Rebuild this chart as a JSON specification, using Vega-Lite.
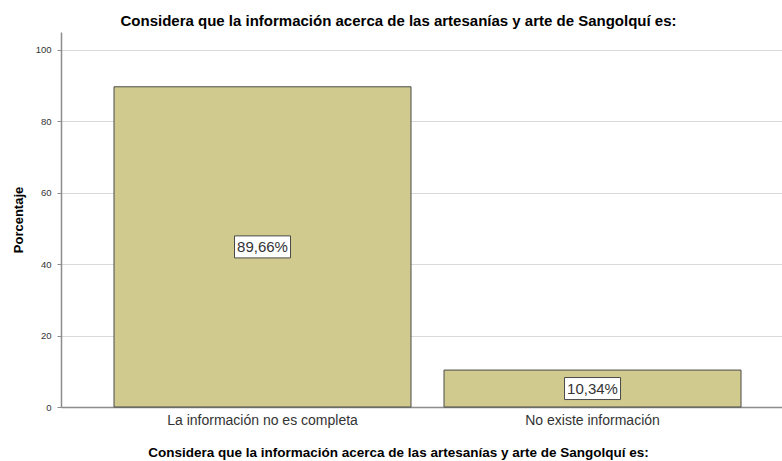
{
  "$schema": "https://vega.github.io/schema/vega-lite/v6.json",
  "width": 721,
  "height": 375,
  "autosize": {"type": "none"},
  "padding": {"left": 61, "top": 32, "right": 0, "bottom": 54},
  "background": "white",
  "config": {
    "font": "Liberation Sans",
    "view": {"stroke": null}
  },
  "title": {
    "text": "Considera que la información acerca de las artesanías y arte de Sangolquí es:",
    "fontSize": 15,
    "fontWeight": "bold",
    "color": "#000000",
    "anchor": "middle",
    "dx": -23,
    "offset": 3
  },
  "data": {
    "values": [
      {"categoria": "La información no es completa", "pct": 89.66, "label": "89,66%"},
      {"categoria": "No existe información", "pct": 10.34, "label": "10,34%"}
    ]
  },
  "encoding": {
    "x": {
      "field": "categoria",
      "type": "nominal",
      "sort": null,
      "scale": {"paddingInner": 0.1, "paddingOuter": 0.1424, "align": 0.564},
      "axis": {
        "title": "Considera que la información acerca de las artesanías y arte de Sangolquí es:",
        "titleFontSize": 13.5,
        "titleFontWeight": "bold",
        "titleColor": "#000000",
        "titleX": 337,
        "titlePadding": 18,
        "labelAngle": 0,
        "labelFontSize": 14,
        "labelLimit": 0,
        "labelColor": "#333333",
        "labelPadding": 6,
        "ticks": false,
        "domainColor": "#8c8c8c",
        "domainWidth": 1.5,
        "grid": false
      }
    }
  },
  "resolve": {"scale": {"y": "independent"}},
  "layer": [
    {
      "mark": {"type": "bar", "color": "#d1ca8e", "stroke": "#4a4a4a", "strokeWidth": 1},
      "encoding": {
        "y": {
          "field": "pct",
          "type": "quantitative",
          "scale": {"domain": [0, 105], "nice": false},
          "axis": {
            "title": "Porcentaje",
            "titleFontSize": 13,
            "titleFontWeight": "bold",
            "titleColor": "#000000",
            "titleX": -36,
            "values": [0, 20, 40, 60, 80, 100],
            "labelFontSize": 9.5,
            "labelColor": "#333333",
            "labelPadding": 6,
            "tickSize": 4,
            "tickColor": "#8c8c8c",
            "domainColor": "#8c8c8c",
            "domainWidth": 1.5,
            "grid": true,
            "gridColor": "#d9d9d9",
            "gridWidth": 1.2
          }
        }
      }
    },
    {
      "layer": [
        {
          "mark": {
            "type": "point",
            "shape": "M-2.8,-1.1H2.8V1.1H-2.8Z",
            "size": 400,
            "filled": true,
            "fill": "white",
            "stroke": "#4a4a4a",
            "strokeWidth": 1,
            "opacity": 1
          },
          "encoding": {
            "y": {"field": "pct", "type": "quantitative", "scale": {"domain": [0, 210], "nice": false}, "axis": null}
          }
        },
        {
          "mark": {"type": "text", "fontSize": 15, "color": "#333333", "baseline": "middle"},
          "encoding": {
            "y": {"field": "pct", "type": "quantitative", "scale": {"domain": [0, 210], "nice": false}, "axis": null},
            "text": {"field": "label"}
          }
        }
      ]
    }
  ]
}
